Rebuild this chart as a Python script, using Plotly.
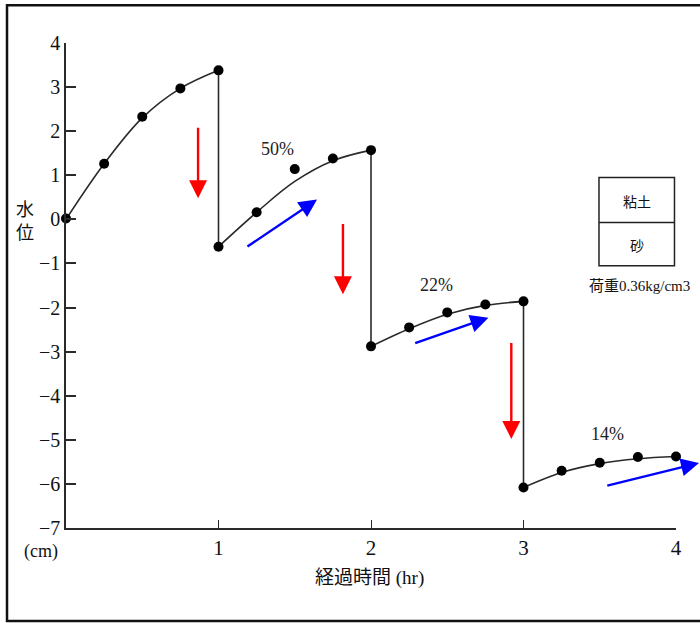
import plotly.graph_objects as go

# ---- data ----
seg1_t = [0, 0.25, 0.5, 0.75, 1.0]
seg1_pts = [0.02, 1.26, 2.33, 2.97, 3.38]
seg1_curve = [0.0, 1.26, 2.30, 2.97, 3.38]

seg2_t = [1.0, 1.25, 1.5, 1.75, 2.0]
seg2_pts = [-0.62, 0.16, 1.14, 1.38, 1.57]
seg2_curve = [-0.62, 0.16, 0.86, 1.33, 1.57]

seg3_t = [2.0, 2.25, 2.5, 2.75, 3.0]
seg3_pts = [-2.88, -2.45, -2.11, -1.93, -1.86]
seg3_curve = [-2.88, -2.48, -2.15, -1.95, -1.86]

seg4_t = [3.0, 3.25, 3.5, 3.75, 4.0]
seg4_pts = [-6.08, -5.70, -5.52, -5.39, -5.38]
seg4_curve = [-6.08, -5.74, -5.54, -5.43, -5.38]

ratio_labels = ["50%", "22%", "14%"]
x_ticks = [1, 2, 3, 4]
y_ticks = [4, 3, 2, 1, 0, -1, -2, -3, -4, -5, -6, -7]

SERIF = "Liberation Serif, Noto Sans CJK JP, serif"
LINE = "#2a2a2a"

fig = go.Figure()

segs = [(seg1_t, seg1_pts, seg1_curve), (seg2_t, seg2_pts, seg2_curve),
        (seg3_t, seg3_pts, seg3_curve), (seg4_t, seg4_pts, seg4_curve)]

for t, pts, curve in segs:
    fig.add_trace(go.Scatter(x=t, y=curve, mode="lines",
                             line=dict(color=LINE, width=1.6, shape="spline", smoothing=1.0),
                             hoverinfo="skip", showlegend=False, cliponaxis=False))
# vertical drops between segments
for (ta, pa, ca), (tb, pb, cb) in zip(segs[:-1], segs[1:]):
    fig.add_trace(go.Scatter(x=[ta[-1], tb[0]], y=[ca[-1], cb[0]], mode="lines",
                             line=dict(color=LINE, width=1.6),
                             hoverinfo="skip", showlegend=False))
for t, pts, curve in segs:
    fig.add_trace(go.Scatter(x=t, y=pts, mode="markers",
                             marker=dict(color="black", size=10),
                             showlegend=False, cliponaxis=False))

anns = []
# red down arrows
for x, y0, y1 in [(0.866, 2.11, 0.48), (1.816, -0.07, -1.70), (2.92, -2.77, -4.98)]:
    anns.append(dict(x=x, y=y1, ax=x, ay=y0, xref="x", yref="y", axref="x", ayref="y",
                     showarrow=True, arrowhead=2, arrowsize=1.5, arrowwidth=2.4,
                     arrowcolor="#ff0000", text=""))
# blue arrows
for x0, y0, x1, y1 in [(1.18, -0.64, 1.646, 0.45), (2.28, -2.82, 2.77, -2.23)]:
    anns.append(dict(x=x1, y=y1, ax=x0, ay=y0, xref="x", yref="y", axref="x", ayref="y",
                     showarrow=True, arrowhead=2, arrowsize=1.5, arrowwidth=2.4,
                     arrowcolor="#0000ff", text=""))
# last blue arrow runs past the axis end -> paper ref with pixel offset
anns.append(dict(x=1.039, y=0.134, xref="paper", yref="paper", ax=-94, ay=23,
                 showarrow=True, arrowhead=2, arrowsize=1.5, arrowwidth=2.4,
                 arrowcolor="#0000ff", text=""))
# ratio labels
for (x, y), txt in zip([(1.39, 1.6), (2.43, -1.48), (3.55, -4.86)], ratio_labels):
    anns.append(dict(x=x, y=y, xref="x", yref="y", text=txt, showarrow=False,
                     font=dict(family=SERIF, size=18, color="#222")))
# legend box text
anns.append(dict(x=3.745, y=0.41, xref="x", yref="y", text="粘土", showarrow=False,
                 font=dict(family="Noto Sans CJK JP", size=14, color="#111")))
anns.append(dict(x=3.745, y=-0.58, xref="x", yref="y", text="砂", showarrow=False,
                 font=dict(family="Noto Sans CJK JP", size=14, color="#111")))
anns.append(dict(x=3.76, y=-1.52, xref="x", yref="y", text="荷重0.36kg/cm3", showarrow=False,
                 font=dict(family=SERIF, size=15, color="#111")))
# axis labels (outside the plot area -> paper coordinates)
anns.append(dict(x=-0.067, y=0.637, xref="paper", yref="paper", text="水<br>位", showarrow=False,
                 xanchor="center", yanchor="middle",
                 font=dict(family="Noto Sans CJK JP", size=18, color="#111")))
anns.append(dict(x=-0.041, y=-0.049, xref="paper", yref="paper", text="(cm)", showarrow=False,
                 xanchor="center", yanchor="middle",
                 font=dict(family=SERIF, size=18, color="#111")))
anns.append(dict(x=0.498, y=-0.103, xref="paper", yref="paper", text="経過時間 (hr)", showarrow=False,
                 xanchor="center", yanchor="middle",
                 font=dict(family=SERIF, size=19, color="#111")))

shapes = [
    # legend box
    dict(type="rect", xref="x", yref="y", x0=3.495, x1=3.99, y0=-1.05, y1=0.95,
         line=dict(color="#222", width=1.5)),
    dict(type="line", xref="x", yref="y", x0=3.495, x1=3.99, y0=-0.07, y1=-0.07,
         line=dict(color="#222", width=1.5)),
    # outer frame
    dict(type="rect", xref="paper", yref="paper", x0=-0.0967, x1=1.2, y0=-0.1918, y1=1.078,
         line=dict(color="#111", width=2.5)),
]

fig.update_layout(
    width=700, height=623,
    margin=dict(l=66, r=24, t=43, b=95, autoexpand=False),
    paper_bgcolor="white", plot_bgcolor="white",
    showlegend=False,
    annotations=anns, shapes=shapes,
    xaxis=dict(range=[0, 4], tickvals=x_ticks, ticktext=[str(v) for v in x_ticks],
               showline=True, linecolor=LINE, linewidth=1.6, showgrid=False, zeroline=False,
               ticks="inside", ticklen=8, tickcolor=LINE, tickwidth=1.2, automargin=False,
               tickfont=dict(family=SERIF, size=21, color="#111")),
    yaxis=dict(range=[-7, 4], tickvals=y_ticks, ticktext=[str(v).replace("-", "\u2212") for v in y_ticks],
               showline=True, linecolor=LINE, linewidth=1.6, showgrid=False, zeroline=False,
               ticks="inside", ticklen=10, tickcolor=LINE, tickwidth=1.6, automargin=False,
               tickfont=dict(family=SERIF, size=20, color="#111")),
)

fig.write_html("out.html", config={"displayModeBar": False},
               post_script="document.body.style.margin='0px';")
